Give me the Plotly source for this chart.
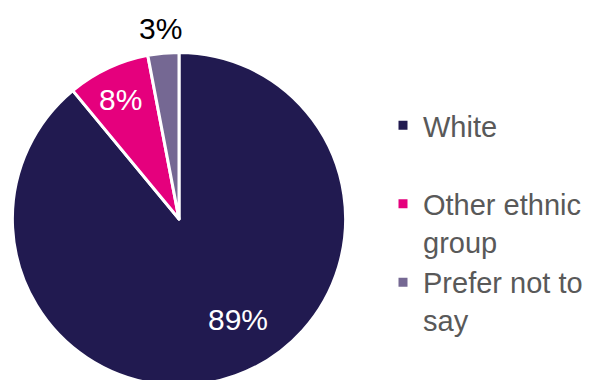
import math
import plotly.graph_objects as go

# Ethnicity breakdown (percent of respondents)
categories = ["White", "Other ethnic group", "Prefer not to say"]
legend_labels = ["White<br> ", "Other ethnic<br>group", "Prefer not to<br>say"]
shares = [89, 8, 3]
colors = ["#211a50", "#e5007d", "#756893"]
label_colors = ["white", "white", "black"]

W, H = 600, 390
cx, cy, r = 179, 219, 166.6  # pie centre / radius in pixels

# Label placement: angular nudge (deg) from the slice middle and distance
# from the centre as a fraction of the radius.
label_nudge = [-10.5, -0.8, 0]
label_dist = [0.70, 0.795, 1.15]

fig = go.Figure(
    go.Pie(
        labels=legend_labels,
        values=shares,
        customdata=categories,
        sort=False,
        direction="clockwise",
        rotation=0,
        marker=dict(colors=colors, line=dict(color="white", width=3)),
        textinfo="none",
        hovertemplate="%{customdata}: %{percent:.0%}<extra></extra>",
        domain=dict(
            x=[(cx - r) / W, (cx + r) / W],
            y=[(H - cy - r) / H, (H - cy + r) / H],
        ),
    )
)

# Percentage labels, positioned around each slice's middle angle
total = sum(shares)
start = 0.0
for v, col, nudge, dist in zip(shares, label_colors, label_nudge, label_dist):
    sweep = 360.0 * v / total
    ang = math.radians(start + sweep / 2 + nudge)
    px = cx + dist * r * math.sin(ang)
    py = cy - dist * r * math.cos(ang)
    fig.add_annotation(
        x=px / W,
        y=(H - py) / H,
        xref="paper",
        yref="paper",
        text=f"{round(100 * v / total)}%",
        showarrow=False,
        font=dict(size=30, color=col),
        xanchor="center",
        yanchor="middle",
    )
    start += sweep

fig.update_layout(
    width=W,
    height=H,
    margin=dict(l=0, r=0, t=0, b=0),
    paper_bgcolor="white",
    font=dict(family="Liberation Sans, Arial, sans-serif"),
    showlegend=True,
    legend=dict(
        x=383 / W,
        y=(H - 100) / H,
        xanchor="left",
        yanchor="top",
        valign="top",
        font=dict(size=29, color="#595959"),
        bgcolor="rgba(0,0,0,0)",
    ),
)

fig.write_html("out.html")
